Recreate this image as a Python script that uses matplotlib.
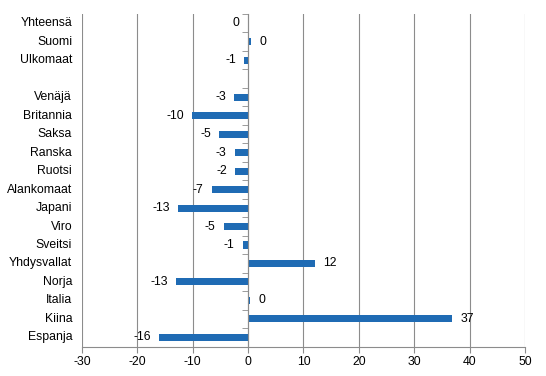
import numpy as np
import matplotlib.pyplot as plt
from matplotlib.transforms import blended_transform_factory
from matplotlib.ticker import MultipleLocator, FixedLocator

plt.rcParams['font.family'] = ['Liberation Sans', 'DejaVu Sans']
plt.rcParams['axes.unicode_minus'] = False

# Kategoriat ylhäältä alas (tyhjä rivi Ulkomaat-rivin jälkeen)
categories = ['Yhteensä', 'Suomi', 'Ulkomaat', '', 'Venäjä', 'Britannia', 'Saksa',
              'Ranska', 'Ruotsi', 'Alankomaat', 'Japani', 'Viro', 'Sveitsi',
              'Yhdysvallat', 'Norja', 'Italia', 'Kiina', 'Espanja']
values = [-0.05, 0.5, -0.7, np.nan, -2.5, -10.1, -5.2,
          -2.4, -2.3, -6.5, -12.6, -4.4, -1.0,
          12.1, -13.0, 0.3, 36.9, -16.1]
labels = ['0', '0', '-1', '', '-3', '-10', '-5',
          '-3', '-2', '-7', '-13', '-5', '-1',
          '12', '-13', '0', '37', '-16']

bar_color = '#1F6BB4'
grid_color = '#8C8C8C'
fs = 8.8

fig = plt.figure(figsize=(5.46, 3.76), dpi=100)
ax = fig.add_axes([0.150, 0.078, 0.8115, 0.885])

y = np.arange(len(categories))
ax.barh(y, np.nan_to_num(values), height=0.38, color=bar_color, zorder=3)

# arvojen tekstit palkkien päähän
for yi, v, lab in zip(y, values, labels):
    if lab == '':
        continue
    off = 6 if v > 0 else -6
    ax.annotate(lab, (v, yi), xytext=(off, 0), textcoords='offset points',
                ha='left' if v > 0 else 'right', va='center', fontsize=fs, zorder=4)

ax.set_xlim(-30, 50)
ax.set_ylim(len(categories) - 0.5, -0.5)
ax.xaxis.set_major_locator(MultipleLocator(10))
ax.grid(axis='x', color=grid_color, linewidth=0.8, zorder=0)

for s in ['top', 'right']:
    ax.spines[s].set_visible(False)
ax.spines['bottom'].set_color(grid_color)
ax.spines['left'].set_position(('data', 0))
ax.spines['left'].set_color(grid_color)
ax.spines['left'].set_zorder(5)

ax.yaxis.set_major_locator(FixedLocator([]))
ax.yaxis.set_minor_locator(FixedLocator(np.arange(len(categories) + 1) - 0.5))
ax.tick_params(axis='y', which='minor', length=4, color=grid_color, direction='out')
ax.tick_params(axis='x', length=4, color=grid_color, labelsize=fs, pad=3)

trans = blended_transform_factory(ax.transAxes, ax.transData)
for yi, c in zip(y, categories):
    ax.text(-0.022, yi, c, transform=trans, ha='right', va='center', fontsize=fs)

fig.savefig('out.png', dpi=100)
